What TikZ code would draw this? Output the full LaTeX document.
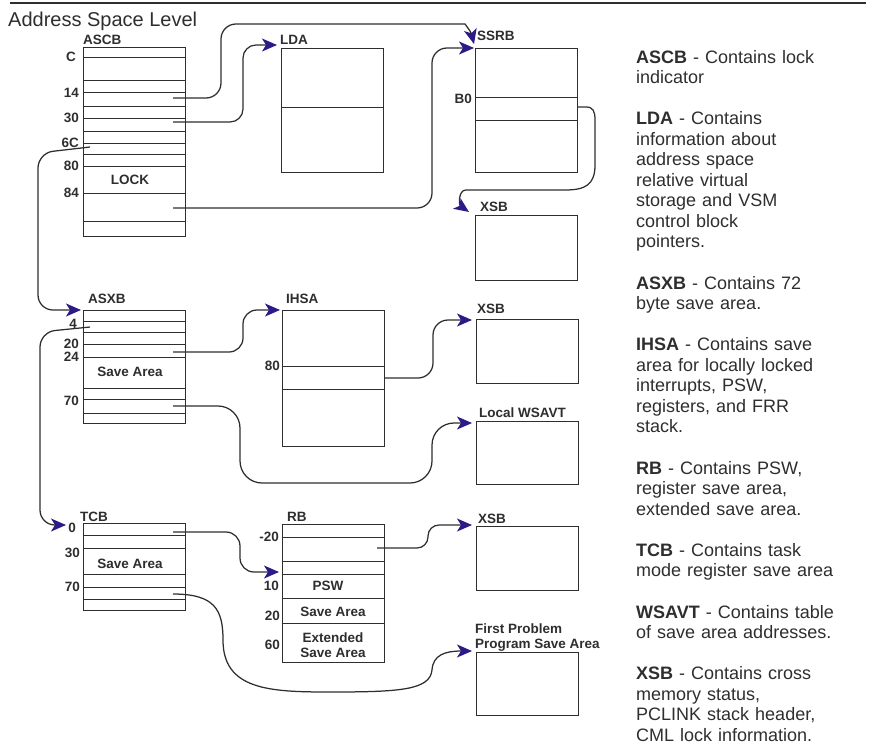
\documentclass[tikz,border=0pt]{standalone}
\usepackage{fontspec}
\setmainfont{Liberation Sans}
\usetikzlibrary{arrows.meta}
\definecolor{ink}{HTML}{2E2E2E}
\definecolor{arrowc}{HTML}{2E1A86}
\begin{document}
\begin{tikzpicture}[x=1pt,y=-1pt,
 box/.style={draw=ink,line width=1pt,inner sep=0pt,minimum width=102pt},
 cell/.style={draw=ink,line width=0.85pt},
 lbl/.style={font=\fontsize{13.5}{15.5}\selectfont\bfseries,text=ink,inner sep=0pt},
 ptr/.style={draw=ink,line width=1.25pt,-{Stealth[length=15pt,width=13pt,inset=4pt,color=arrowc]}},
 desc/.style={font=\fontsize{18}{20.55}\selectfont,text=ink,inner sep=0pt,align=left,text width=235pt,anchor=base west}]
\useasboundingbox (0,0) rectangle (869,744);

% top rule and title
\draw[ink,line width=1.3pt] (10,3) -- (866,3);
\node[anchor=base west,font=\fontsize{20}{24}\selectfont,text=ink,inner sep=0pt] (title) at (8,26) {Address Space Level};

% ---------- boxes ----------
\node[box,minimum height=189pt] (ascb) at (134,141.5) {};
\node[box,minimum height=124pt] (lda) at (332.5,110) {};
\node[box,minimum height=124pt] (ssrb) at (526,110) {};
\node[box,minimum height=65pt] (xsba) at (526.5,247.5) {};
\node[box,minimum height=113pt] (asxb) at (134,366.5) {};
\node[box,minimum height=136pt] (ihsa) at (333,378) {};
\node[box,minimum height=64pt] (xsbb) at (527,351) {};
\node[box,minimum height=63pt] (wsavt) at (527,452.5) {};
\node[box,minimum height=87pt] (tcb) at (134,566.5) {};
\node[box,minimum height=138pt] (rb) at (333,593) {};
\node[box,minimum height=64pt] (xsbc) at (527,558) {};
\node[box,minimum height=63pt] (fpsa) at (527,683.5) {};

% ---------- cell lines ----------
\foreach \y in {57,80,92,106,118,131,143,154,166,193,221}
  \draw[cell] (ascb.west |- 0,\y) -- (ascb.east |- 0,\y);
\draw[cell] (lda.west |- 0,107) -- (lda.east |- 0,107);
\foreach \y in {97,120}
  \draw[cell] (ssrb.west |- 0,\y) -- (ssrb.east |- 0,\y);
\foreach \y in {321,332,344,357,388,399,413}
  \draw[cell] (asxb.west |- 0,\y) -- (asxb.east |- 0,\y);
\foreach \y in {366,389}
  \draw[cell] (ihsa.west |- 0,\y) -- (ihsa.east |- 0,\y);
\foreach \y in {535,548,574,587,599}
  \draw[cell] (tcb.west |- 0,\y) -- (tcb.east |- 0,\y);
\foreach \y in {537,561,574,598,623}
  \draw[cell] (rb.west |- 0,\y) -- (rb.east |- 0,\y);

% ---------- headers ----------
\node[lbl,anchor=base west] (hascb) at (83,44.5) {ASCB};
\node[lbl,anchor=base west] (hlda) at (280,44) {LDA};
\node[lbl,anchor=base west] (hssrb) at (477,40.5) {SSRB};
\node[lbl,anchor=base west] (hxsba) at (480,211.5) {XSB};
\node[lbl,anchor=base west] (hasxb) at (88,303) {ASXB};
\node[lbl,anchor=base west] (hihsa) at (286,303) {IHSA};
\node[lbl,anchor=base west] (hxsbb) at (477,313) {XSB};
\node[lbl,anchor=base west] (hwsavt) at (479,417) {Local WSAVT};
\node[lbl,anchor=base west] (htcb) at (80,521.5) {TCB};
\node[lbl,anchor=base west] (hrb) at (287,521) {RB};
\node[lbl,anchor=base west] (hxsbc) at (478,523) {XSB};
\node[lbl,anchor=base west] (hfpsa1) at (475,633) {First Problem};
\node[lbl,anchor=base west] (hfpsa2) at (475,648) {Program Save Area};

% ---------- offset labels ----------
\node[lbl,anchor=east] (lC) at (76,57) {C};
\node[lbl,anchor=east] (l14) at (79,93) {14};
\node[lbl,anchor=east] (l30) at (79,118) {30};
\node[lbl,anchor=east] (l6C) at (79,143) {6C};
\node[lbl,anchor=east] (l80) at (79,166) {80};
\node[lbl,anchor=east] (l84) at (79,193) {84};
\node[lbl] (lock) at (130,180) {LOCK};
\node[lbl,anchor=east] (lB0) at (472,99) {B0};
\node[lbl,anchor=east] (x4) at (77,324) {4};
\node[lbl,anchor=east] (x20) at (79,344) {20};
\node[lbl,anchor=east] (x24) at (79,357) {24};
\node[lbl,anchor=east] (x70) at (79,401) {70};
\node[lbl] (xsave) at (130,372) {Save Area};
\node[lbl,anchor=east] (i80) at (280,366) {80};
\node[lbl,anchor=east] (t0) at (76,528) {0};
\node[lbl,anchor=east] (t30) at (80,553) {30};
\node[lbl,anchor=east] (t70) at (80,587) {70};
\node[lbl] (tsave) at (130,564) {Save Area};
\node[lbl,anchor=east] (rm20) at (279,537) {-20};
\node[lbl,anchor=east] (r10) at (279,586) {10};
\node[lbl,anchor=east] (r20) at (280,616) {20};
\node[lbl,anchor=east] (r60) at (280,645) {60};
\node[lbl] (rpsw) at (328,586) {PSW};
\node[lbl] (rsave) at (333,612) {Save Area};
\node[lbl,align=center] (rext) at (333,645) {Extended\\Save Area};

% ---------- pointer ends ----------
\coordinate (a14) at (173,98);
\coordinate (a30) at (173,122);
\coordinate (a6c) at (90,147);
\coordinate (a84) at (173,208);
\coordinate (ab0) at (578,107);
\coordinate (s4) at (90,327);
\coordinate (s20) at (173,352);
\coordinate (s70) at (173,406);
\coordinate (h80) at (385,378);
\coordinate (c0) at (173,532);
\coordinate (c70) at (173,594);
\coordinate (rr) at (377,548);
\coordinate (ssrbT) at (474,44);
\coordinate (ssrbL) at (474,48);
\coordinate (ldaL) at (277,45);
\coordinate (xsbaT) at (469,212);
\coordinate (asxbL) at (81,310);
\coordinate (tcbL) at (66,525);
\coordinate (ihsaL) at (280,310);
\coordinate (wsavtL) at (472,423);
\coordinate (xsbbL) at (472,320);
\coordinate (rbL) at (279,572);
\coordinate (xsbcL) at (472,525);
\coordinate (fpsaL) at (472,651);

% ---------- connectors ----------
\draw[ptr,rounded corners=15pt] (a14) -- (221,98) -- (221,24) -- (450,24) .. controls (465,24) and (471,32) .. (ssrbT);
\draw[ptr,rounded corners=13pt] (a30) -- (243,122) -- (243,45) -- (ldaL);
\draw[ptr,rounded corners=15pt] (a84) -- (432,208) -- (432,48) -- (ssrbL);
\draw[ptr] (ab0) -- (586,107) .. controls (593,107) and (595,111) .. (595,120) -- (595,165)
   .. controls (595,185) and (585,190) .. (565,190) -- (466,190) .. controls (458,190) and (459,205) .. (xsbaT);
\draw[ptr,rounded corners=15pt] (a6c) -- (38,153) -- (38,310) -- (asxbL);
\draw[ptr,rounded corners=15pt] (s4) -- (40,332) -- (40,525) -- (tcbL);
\draw[ptr,rounded corners=14pt] (s20) -- (243,352) -- (243,310) -- (ihsaL);
\draw[ptr,rounded corners=22pt] (s70) -- (240,406) -- (240,483) -- (432,483) -- (432,423) -- (wsavtL);
\draw[ptr,rounded corners=15pt] (h80) -- (433,378) -- (433,320) -- (xsbbL);
\draw[ptr,rounded corners=14pt] (c0) -- (240,532) -- (240,572) -- (rbL);
\draw[ptr] (c70) .. controls (215,594) and (223,610) .. (223,640) .. controls (223,690) and (270,692) .. (330,692)
   .. controls (400,692) and (430,690) .. (432,670) .. controls (433,655) and (445,651) .. (fpsaL);
\draw[ptr,rounded corners=11pt] (rr) -- (428,548) -- (428,525) -- (xsbcL);

% ---------- descriptions ----------
\node[desc] (dascb) at (636,63) {\textbf{ASCB} - Contains lock\\indicator};
\node[desc] (dlda) at (636,124.6) {\textbf{LDA} - Contains\\information about\\address space\\relative virtual\\storage and VSM\\control block\\pointers.};
\node[desc] (dasxb) at (636,289) {\textbf{ASXB} - Contains 72\\byte save area.};
\node[desc] (dihsa) at (636,350.7) {\textbf{IHSA} - Contains save\\area for locally locked\\interrupts, PSW,\\registers, and FRR\\stack.};
\node[desc] (drb) at (636,474) {\textbf{RB} - Contains PSW,\\register save area,\\extended save area.};
\node[desc] (dtcb) at (636,556) {\textbf{TCB} - Contains task\\mode register save area};
\node[desc] (dwsavt) at (636,618) {\textbf{WSAVT} - Contains table\\of save area addresses.};
\node[desc] (dxsb) at (636,679.5) {\textbf{XSB} - Contains cross\\memory status,\\PCLINK stack header,\\CML lock information.};
\end{tikzpicture}
\end{document}
